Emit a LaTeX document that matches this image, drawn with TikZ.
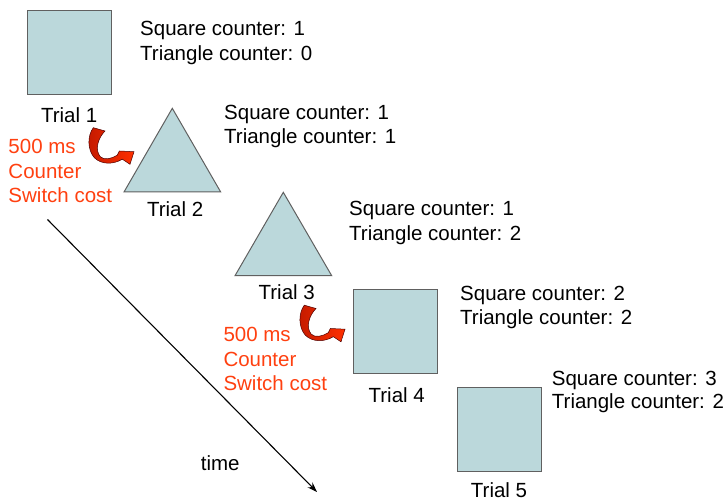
\documentclass[tikz,border=0pt]{standalone}
\usepackage{fontspec}
\setmainfont{Liberation Sans}
\usetikzlibrary{arrows.meta}
\definecolor{shapefill}{HTML}{BBD8DB}
\definecolor{shapeline}{HTML}{606060}
\definecolor{costorange}{HTML}{FF4010}
\definecolor{arrowdark}{HTML}{C41A00}
\definecolor{arrowlight}{HTML}{FF3000}
\tikzset{
  txt/.style={inner sep=0pt, anchor=base west, font=\fontsize{20.5}{25}\selectfont},
  trial/.style={inner sep=0pt, anchor=base, font=\fontsize{20.5}{25}\selectfont},
  cost/.style={txt, text=costorange},
  sqbox/.style={draw=shapeline, line width=1pt, fill=shapefill, minimum size=84pt, inner sep=0pt},
  tribox/.style={draw=shapeline, line width=1pt, fill=shapefill},
  pics/switcharrow/.style={code={
    \draw[draw=black!70!red, line width=0.5pt, left color=arrowdark, right color=arrowlight]
      (0,0) -- (11.7,3.3) .. controls (5,10) and (1,22) .. (7,29)
      .. controls (11,33) and (18,31) .. (24,27.5) -- (26,23.3) -- (40.7,24)
      -- (36.7,36.6) -- (29,31.5) .. controls (20,37) and (8,37) .. (1,30)
      .. controls (-6,22) and (-6,8) .. (0,0) -- cycle;
  }}
}
\begin{document}
\begin{tikzpicture}[x=1pt, y=-1pt]
\useasboundingbox (0,0) rectangle (725,502);

% Trial 1
\node[sqbox] (sq1) at (69,53) {};
\node[trial] (t1) at (69.2,122.5) {Trial 1};
\node[txt] (c1a) at (140,36) {Square counter: 1};
\node[txt] (c1b) at (140,61) {Triangle counter: 0};

% Trial 2
\coordinate (tr2a) at (172.3,108.3);
\coordinate (tr2b) at (124,192);
\coordinate (tr2c) at (220.7,192);
\draw[tribox] (tr2a) -- (tr2b) -- (tr2c) -- cycle;
\node[trial] (t2) at (175.2,216.7) {Trial 2};
\node[txt] (c2a) at (224,119.5) {Square counter: 1};
\node[txt] (c2b) at (224,144) {Triangle counter: 1};

% switch cost 1
\node[cost] (o1a) at (8.3,154) {500 ms};
\node[cost] (o1b) at (8.3,179) {Counter};
\node[cost] (o1c) at (8.3,203) {Switch cost};
\pic at (93.3,127.7) {switcharrow};

% Trial 3
\coordinate (tr3a) at (283.3,192.3);
\coordinate (tr3b) at (235,275.7);
\coordinate (tr3c) at (331.7,275.7);
\draw[tribox] (tr3a) -- (tr3b) -- (tr3c) -- cycle;
\node[trial] (t3) at (286.7,299.3) {Trial 3};
\node[txt] (c3a) at (349,216) {Square counter: 1};
\node[txt] (c3b) at (349,241) {Triangle counter: 2};

% Trial 4
\node[sqbox] (sq4) at (395.3,331.3) {};
\node[trial] (t4) at (396.7,402.3) {Trial 4};
\node[txt] (c4a) at (460,300.5) {Square counter: 2};
\node[txt] (c4b) at (460,324.5) {Triangle counter: 2};

% switch cost 2
\node[cost] (o2a) at (223.3,341.7) {500 ms};
\node[cost] (o2b) at (223.3,366) {Counter};
\node[cost] (o2c) at (223.3,390) {Switch cost};
\pic at (304.3,305.2) {switcharrow};

% Trial 5
\node[sqbox] (sq5) at (499.2,429.2) {};
\node[trial] (t5) at (499,497.5) {Trial 5};
\node[txt] (c5a) at (551.7,385) {Square counter: 3};
\node[txt] (c5b) at (551.7,408.3) {Triangle counter: 2};

% time arrow
\coordinate (ts) at (47.5,219.5);
\coordinate (te) at (317,492);
\draw[line width=1.1pt, -{Stealth[length=10pt,width=7pt]}] (ts) -- (te);
\node[txt] (time) at (200.7,470) {time};
\end{tikzpicture}
\end{document}
